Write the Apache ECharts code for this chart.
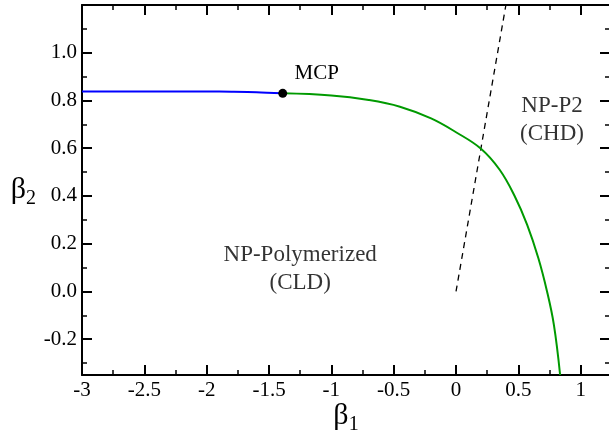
<!DOCTYPE html>
<html>
<head>
<meta charset="utf-8">
<script src="https://cdn.jsdelivr.net/npm/echarts@6/dist/echarts.min.js"></script>
<style>
  html, body { margin: 0; padding: 0; background: #fff; }
  #chart { width: 609px; height: 435px; }
</style>
</head>
<body>
<div id="chart"></div>
<script>
// tick positions
var xMajor = [-3, -2.5, -2, -1.5, -1, -0.5, 0, 0.5, 1];
var xMinor = [-2.75, -2.25, -1.75, -1.25, -0.75, -0.25, 0.25, 0.75];
var yMajor = [-0.2, 0, 0.2, 0.4, 0.6, 0.8, 1.0];
var yMinor = [-0.3, -0.1, 0.1, 0.3, 0.5, 0.7, 0.9, 1.1];

// phase boundaries (beta1, beta2)
var blueLine = [[-3, 0.838], [-2.5, 0.838], [-2, 0.838], [-1.8, 0.837], [-1.6, 0.835], [-1.39, 0.830]];
var greenLine = [
  [-1.39, 0.830], [-1.0, 0.821], [-0.7, 0.802], [-0.45, 0.774], [-0.2, 0.725],
  [0, 0.667], [0.2, 0.598], [0.35, 0.510], [0.47, 0.400], [0.57, 0.280],
  [0.66, 0.140], [0.73, 0.0], [0.785, -0.140], [0.835, -0.35]
];
var dashedLine = [[0, 0], [0.4, 1.2]];
var mcpPoint = [[-1.39, 0.830]];

// region names and where they sit
var regionNames = ["NP-Polymerized\n(CLD)", "NP-P2\n(CHD)"];
var regionSpots = [[-1.25, 0.095], [0.77, 0.72]];

var font = "'Liberation Serif', 'Times New Roman', serif";
var chart = echarts.init(document.getElementById("chart"));

function mkAxis(pos, min, max, ticks, len, labels, line) {
  var vertical = pos === "left" || pos === "right";
  return {
    type: "value",
    position: pos,
    min: min,
    max: max,
    offset: 0,
    gridIndex: 0,
    splitLine: { show: false },
    axisLine: { show: line, onZero: false, lineStyle: { color: "#000", width: 2 } },
    axisTick: {
      show: true, inside: true, length: len, customValues: ticks,
      lineStyle: { color: "#000", width: len > 6 ? 2 : 1.5 }
    },
    axisLabel: {
      show: !!labels, customValues: labels || [], margin: 5,
      fontFamily: font, fontSize: 21, color: "#000",
      formatter: function (v) { return vertical ? v.toFixed(1) : String(v); }
    }
  };
}

var nameRich = {
  b: { fontFamily: font, fontSize: 30, color: "#000" },
  s: { fontFamily: font, fontSize: 20, color: "#000", padding: [18, 0, 0, 0] }
};

var xAxes = [
  mkAxis("bottom", -3, 1.235, xMajor, 10, xMajor, true),
  mkAxis("bottom", -3, 1.235, xMinor, 5, null, false),
  mkAxis("top", -3, 1.235, xMajor, 10, null, true),
  mkAxis("top", -3, 1.235, xMinor, 5, null, false)
];
xAxes[0].name = "{b|β}{s|1}";
xAxes[0].nameLocation = "middle";
xAxes[0].nameGap = 22;
xAxes[0].nameMoveOverlap = false;
xAxes[0].nameTextStyle = { rich: nameRich, verticalAlign: "top" };

var yAxes = [
  mkAxis("left", -0.35, 1.2, yMajor, 10, yMajor, true),
  mkAxis("left", -0.35, 1.2, yMinor, 5, null, false),
  mkAxis("right", -0.35, 1.2, yMajor, 10, null, true),
  mkAxis("right", -0.35, 1.2, yMinor, 5, null, false)
];
yAxes[0].name = "{b|β}{s|2}";
yAxes[0].nameLocation = "middle";
yAxes[0].nameRotate = 0;
yAxes[0].nameGap = 46;
yAxes[0].nameMoveOverlap = false;
yAxes[0].nameTextStyle = { rich: nameRich };

var option = {
  animation: false,
  backgroundColor: "#fff",
  grid: { left: 82, top: 5, width: 528, height: 370, containLabel: false, outerBoundsMode: "none" },
  xAxis: xAxes,
  yAxis: yAxes,
  series: [
    {
      type: "line", data: blueLine, showSymbol: false, smooth: 0.3,
      lineStyle: { color: "#0000ff", width: 2 }, z: 3
    },
    {
      type: "line", data: greenLine, showSymbol: false, smooth: 0.4,
      lineStyle: { color: "#009a00", width: 2 }, z: 3
    },
    {
      type: "line", data: dashedLine, showSymbol: false,
      lineStyle: { color: "#000", width: 1.3, type: [6, 5] }, z: 2
    },
    {
      type: "scatter", data: mcpPoint, symbolSize: 9, z: 5,
      itemStyle: { color: "#000", opacity: 1 },
      label: {
        show: true, position: "inside", offset: [34, -20], formatter: "MCP",
        fontFamily: font, fontSize: 21, color: "#000"
      }
    },
    {
      type: "scatter", symbolSize: 0, silent: true,
      data: regionSpots.map(function (p, i) { return { value: p, name: regionNames[i] }; }),
      label: {
        show: true, position: "inside", formatter: "{b}", align: "center",
        fontFamily: font, fontSize: 23, lineHeight: 28, color: "#000"
      }
    }
  ]
};
chart.setOption(option);
</script>
</body>
</html>
